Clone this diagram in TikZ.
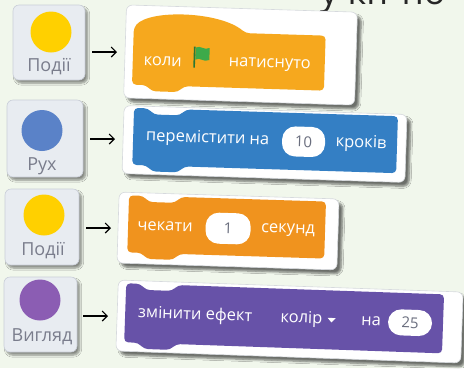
\documentclass[tikz,border=0pt]{standalone}
\usepackage{fontspec}
\setmainfont{Open Sans}
\usetikzlibrary{shadows.blur,arrows.meta}
\definecolor{bg}{HTML}{F1F7EC}
\definecolor{tilefill}{HTML}{E8ECF1}
\definecolor{tileline}{HTML}{C9CED8}
\definecolor{lblgray}{HTML}{7A7D8C}
\definecolor{cardline}{HTML}{D6D9DD}
\definecolor{cyellow}{HTML}{FFD000}
\definecolor{cblue}{HTML}{5A82C8}
\definecolor{cpurple}{HTML}{8B5DB3}
\definecolor{borange}{HTML}{F6A81E}
\definecolor{bblue}{HTML}{347FC4}
\definecolor{bdorange}{HTML}{F0931E}
\definecolor{bpurple}{HTML}{6752A8}
\definecolor{flaggreen}{HTML}{3DAA4A}
\definecolor{ovtext}{HTML}{6A6E7E}
\newcommand\stk[5]{\fill[#5, rounded corners=4pt] (#1,#4) -- (#1,#3) -- (#1+14,#3) -- (#1+20,#3-6) -- (#1+46,#3-6) -- (#1+52,#3) -- (#2,#3) -- (#2,#4) -- (#1+52,#4) -- (#1+46,#4-6) -- (#1+20,#4-6) -- (#1+14,#4) -- cycle;}
\tikzset{
  tile/.style={draw=tileline, fill=tilefill, rounded corners=6pt, line width=0.6pt,
    blur shadow={shadow xshift=2.5pt, shadow yshift=-3pt, shadow blur steps=6, shadow opacity=45}},
  lbl/.style={text=lblgray, font=\fontsize{18}{18}\selectfont, inner sep=0},
  dot/.style={circle, inner sep=0, minimum size=41pt},
  card/.style={draw=cardline, fill=white, rounded corners=6pt, line width=0.6pt,
    blur shadow={shadow xshift=4pt, shadow yshift=-4pt, shadow blur steps=6, shadow opacity=55}},
  btxt/.style={text=white, font=\fontsize{16.5}{16.5}\selectfont, inner sep=0},
  oval/.style={fill=white, rounded corners=13pt, inner sep=0, text=ovtext, font=\fontsize{15}{15}\selectfont},
  conn/.style={-{Straight Barb[length=5pt,width=10pt]}, line width=1.1pt, black},
}
\begin{document}
\begin{tikzpicture}[x=1pt,y=1pt]
\useasboundingbox (0,0) rectangle (464,-368);
\fill[bg] (0,0) rectangle (464,-368);
\begin{scope}
\clip (0,0) rectangle (464,-368);
\node[anchor=base west, inner sep=0, text=black!85, font=\fontsize{36}{36}\selectfont] (frag) at (320,-4) {у кіт по};
\end{scope}

% tiles
\node[tile, minimum width=72pt, minimum height=75pt] (t1) at (49,-42.5) {};
\node[dot, fill=cyellow] (d1) at (51,-32) {};
\node[lbl] (l1) at (49,-67) {Події};

\node[tile, minimum width=76pt, minimum height=77pt] (t2) at (45,-138.5) {};
\node[dot, fill=cblue] (d2) at (42,-130.5) {};
\node[lbl] (l2) at (42,-166) {Рух};

\node[tile, minimum width=74pt, minimum height=76pt] (t3) at (42,-227) {};
\node[dot, fill=cyellow] (d3) at (44,-215) {};
\node[lbl] (l3) at (43,-251) {Події};

\node[tile, minimum width=73pt, minimum height=75pt] (t4) at (40.5,-314.5) {};
\node[dot, fill=cpurple] (d4) at (40,-300) {};
\node[lbl] (l4) at (42,-337) {Вигляд};

% arrows
\coordinate (a1s) at (92,-52);  \coordinate (a1e) at (117,-52);
\coordinate (a2s) at (90,-139); \coordinate (a2e) at (115,-139);
\coordinate (a3s) at (86,-228); \coordinate (a3e) at (111,-228);
\coordinate (a4s) at (83,-316); \coordinate (a4e) at (108,-316);
\draw[conn] (a1s) -- (a1e);
\draw[conn] (a2s) -- (a2e);
\draw[conn] (a3s) -- (a3e);
\draw[conn] (a4s) -- (a4e);

% card 1
\node[card, rotate=-1.8, minimum width=231pt, minimum height=93pt] (c1) at (240.5,-55) {};
\begin{scope}[shift={(240.5,-55)}, rotate=-1.8, transform shape]
  \fill[borange, rounded corners=4pt] (-107.5,-33) -- (-107.5,24) .. controls (-92,43) and (-22,43) .. (4.5,22) -- (84.5,22) -- (84.5,-33) -- (-55.5,-33) -- (-61.5,-39) -- (-87.5,-39) -- (-93.5,-33) -- cycle;
  \node[btxt] (k1) at (-77.5,-9) {коли};
  \fill[flaggreen] (-45,6) .. controls (-40,9) and (-37,3) .. (-31,6) -- (-31,-6) .. controls (-37,-9) and (-40,-3) .. (-45,-6) -- cycle;
  \draw[flaggreen!70!black, line width=1.6pt] (-46,7) -- (-46,-14);
  \node[btxt] (k2) at (29.5,-9) {натиснуто};
\end{scope}

% card 2
\node[card, rotate=-1.8, minimum width=283pt, minimum height=68pt] (c2) at (264.5,-144) {};
\begin{scope}[shift={(264.5,-144)}, rotate=-1.8, transform shape]
  \stk{-131.5}{132.5}{32}{-25}{bblue}
  \node[btxt] (p1) at (-57,3.5) {перемістити на};
  \node[oval, minimum width=43pt, minimum height=30pt] (o2) at (39,3.5) {10};
  \node[btxt] (p2) at (96.5,3.5) {кроків};
\end{scope}

% card 3
\node[card, rotate=-1.8, minimum width=220pt, minimum height=71pt] (c3) at (228,-231) {};
\begin{scope}[shift={(228,-231)}, rotate=-1.8, transform shape]
  \stk{-100}{97}{32.5}{-24.5}{bdorange}
  \node[btxt] (w1) at (-63,2.5) {чекати};
  \node[oval, minimum width=45pt, minimum height=31pt] (o3) at (0,2.5) {1};
  \node[btxt] (w2) at (60,2.5) {секунд};
\end{scope}

% card 4
\node[card, rotate=-2, minimum width=345pt, minimum height=71pt] (c4) at (289.5,-321.5) {};
\begin{scope}[shift={(289.5,-321.5)}, rotate=-2, transform shape]
  \stk{-164.5}{153.5}{32.5}{-26.5}{bpurple}
  \node[btxt] (s1) at (-94.5,3) {змінити ефект};
  \node[btxt, anchor=east] (s2) at (33,3) {колір};
  \fill[white] (38,5) -- (46,5) -- (42,0.5) -- cycle;
  \node[btxt] (s3) at (81.5,3) {на};
  \node[oval, minimum width=44pt, minimum height=26pt] (o4) at (120.5,3) {25};
\end{scope}
\end{tikzpicture}
\end{document}
